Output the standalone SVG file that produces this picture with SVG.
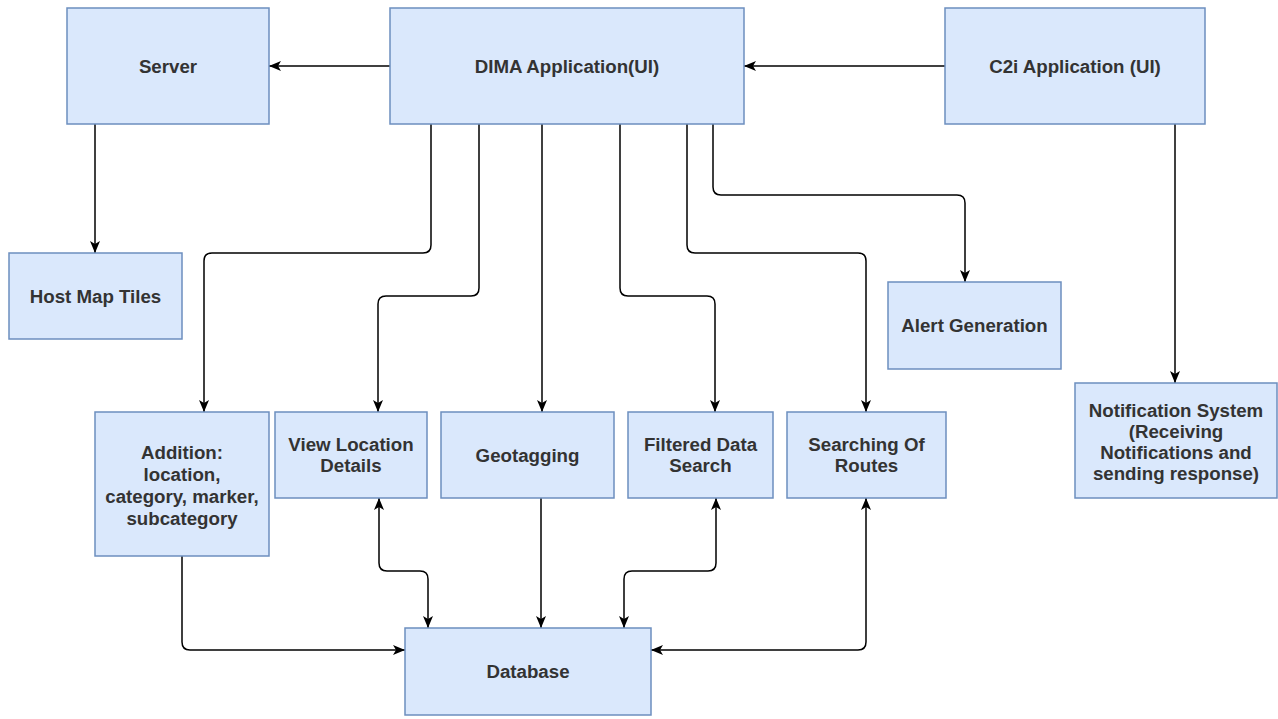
<svg xmlns="http://www.w3.org/2000/svg" width="1278" height="719" viewBox="0 0 1278 719">
  <style>
    .box { fill: #dae8fc; stroke: #6c8ebf; stroke-width: 1.5; }
    .lbl { font-family: "Liberation Sans", Arial, sans-serif; font-size: 18.7px; font-weight: bold; fill: #333333; text-anchor: middle; }
    .edge { fill: none; stroke: #000000; stroke-width: 1.5; }
  </style>
  <defs>
    <marker id="arrow" viewBox="0 0 12 10" markerWidth="12" markerHeight="10" refX="12" refY="5" orient="auto-start-reverse" markerUnits="userSpaceOnUse">
      <path d="M0,0 L12,5 L0,10 L3,5 Z" fill="#000000"/>
    </marker>
  </defs>
  <rect width="1278" height="719" fill="#ffffff"/>

  <g id="connectors">
    <path class="edge" d="M390,66 H269" marker-end="url(#arrow)"/>
    <path class="edge" d="M945,66 H744" marker-end="url(#arrow)"/>
    <path class="edge" d="M95,124 V253" marker-end="url(#arrow)"/>
    <path class="edge" d="M1175,124 V383" marker-end="url(#arrow)"/>
    <path class="edge" d="M431,124 V245 Q431,253 423,253 H212 Q204,253 204,261 V412" marker-end="url(#arrow)"/>
    <path class="edge" d="M479,124 V288 Q479,296 471,296 H386 Q378,296 378,304 V412" marker-end="url(#arrow)"/>
    <path class="edge" d="M542,124 V412" marker-end="url(#arrow)"/>
    <path class="edge" d="M620,124 V288 Q620,296 628,296 H707 Q715,296 715,304 V412" marker-end="url(#arrow)"/>
    <path class="edge" d="M687,124 V245 Q687,253 695,253 H858 Q866,253 866,261 V412" marker-end="url(#arrow)"/>
    <path class="edge" d="M713,124 V187 Q713,195 721,195 H957 Q965,195 965,203 V282" marker-end="url(#arrow)"/>
    <path class="edge" d="M182,556 V642 Q182,650 190,650 H405" marker-end="url(#arrow)"/>
    <path class="edge" d="M379,498 V563 Q379,571 387,571 H420 Q428,571 428,579 V628" marker-start="url(#arrow)" marker-end="url(#arrow)"/>
    <path class="edge" d="M541,498 V628" marker-end="url(#arrow)"/>
    <path class="edge" d="M716,498 V563 Q716,571 708,571 H632 Q624,571 624,579 V628" marker-start="url(#arrow)" marker-end="url(#arrow)"/>
    <path class="edge" d="M866,498 V642 Q866,650 858,650 H651" marker-start="url(#arrow)" marker-end="url(#arrow)"/>
  </g>

  <g id="server">
    <rect class="box" x="67" y="8" width="202" height="116"/>
    <text class="lbl" x="168" y="73">Server</text>
  </g>
  <g id="dima">
    <rect class="box" x="390" y="8" width="354" height="116"/>
    <text class="lbl" x="567" y="73">DIMA Application(UI)</text>
  </g>
  <g id="c2i">
    <rect class="box" x="945" y="8" width="260" height="116"/>
    <text class="lbl" x="1075" y="73">C2i Application (UI)</text>
  </g>
  <g id="host-map-tiles">
    <rect class="box" x="9" y="253" width="173" height="86"/>
    <text class="lbl" x="95.5" y="302.5">Host Map Tiles</text>
  </g>
  <g id="alert-generation">
    <rect class="box" x="888" y="282" width="173" height="87"/>
    <text class="lbl" x="974.5" y="332">Alert Generation</text>
  </g>
  <g id="notification-system">
    <rect class="box" x="1075" y="383" width="202" height="115"/>
    <text class="lbl" x="1176" y="416.5">Notification System</text>
    <text class="lbl" x="1176" y="437.5">(Receiving</text>
    <text class="lbl" x="1176" y="458.5">Notifications and</text>
    <text class="lbl" x="1176" y="479.5">sending response)</text>
  </g>
  <g id="addition">
    <rect class="box" x="95" y="412" width="174" height="144"/>
    <text class="lbl" x="182" y="458.5">Addition:</text>
    <text class="lbl" x="182" y="480.5">location,</text>
    <text class="lbl" x="182" y="502.5">category, marker,</text>
    <text class="lbl" x="182" y="524.5">subcategory</text>
  </g>
  <g id="view-location-details">
    <rect class="box" x="275" y="412" width="152" height="86"/>
    <text class="lbl" x="351" y="451">View Location</text>
    <text class="lbl" x="351" y="472">Details</text>
  </g>
  <g id="geotagging">
    <rect class="box" x="441" y="412" width="173" height="86"/>
    <text class="lbl" x="527.5" y="461.5">Geotagging</text>
  </g>
  <g id="filtered-data-search">
    <rect class="box" x="628" y="412" width="145" height="86"/>
    <text class="lbl" x="700.5" y="451">Filtered Data</text>
    <text class="lbl" x="700.5" y="472">Search</text>
  </g>
  <g id="searching-of-routes">
    <rect class="box" x="787" y="412" width="159" height="86"/>
    <text class="lbl" x="866.5" y="451">Searching Of</text>
    <text class="lbl" x="866.5" y="472">Routes</text>
  </g>
  <g id="database">
    <rect class="box" x="405" y="628" width="246" height="87"/>
    <text class="lbl" x="528" y="678">Database</text>
  </g>
</svg>
